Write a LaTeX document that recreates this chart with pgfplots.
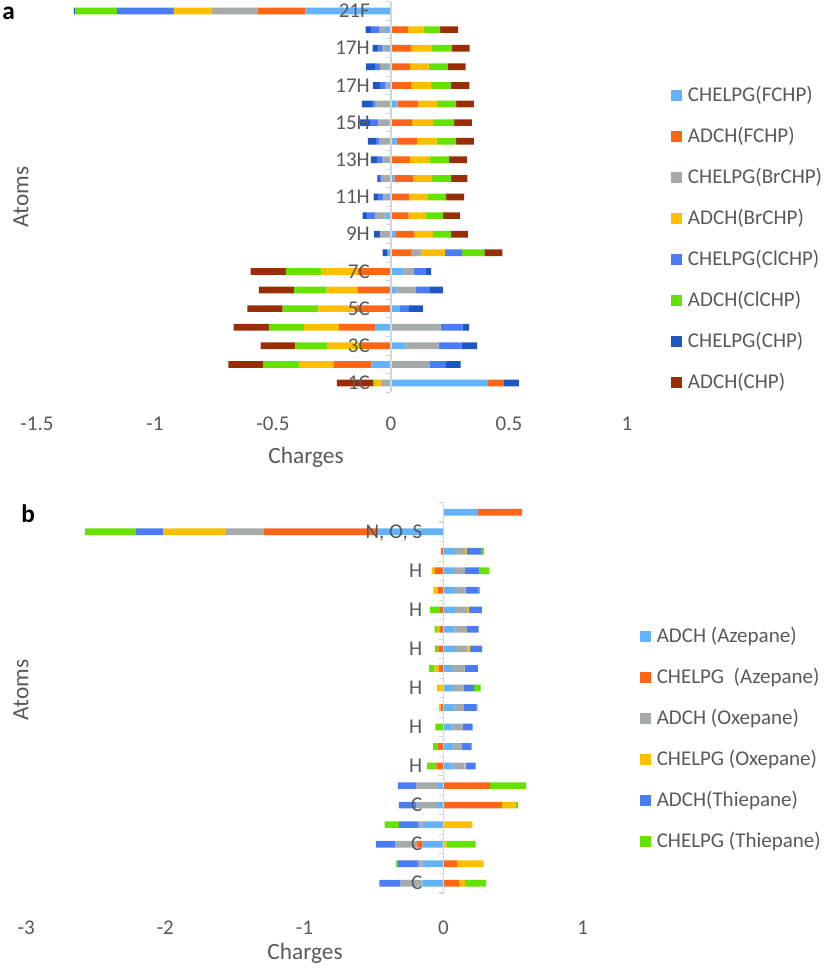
\documentclass[border=0pt]{standalone}
\usepackage{pgfplots}
\pgfplotsset{compat=1.18}
\usepackage{pgfplotstable}
\usepackage{fontspec}
\setmainfont{Carlito}
\setsansfont{Carlito}

\definecolor{cLB}{RGB}{99,178,250}
\definecolor{cOR}{RGB}{252,102,22}
\definecolor{cGR}{RGB}{165,170,170}
\definecolor{cYE}{RGB}{255,190,0}
\definecolor{cBL}{RGB}{74,124,246}
\definecolor{cGN}{RGB}{102,226,0}
\definecolor{cDB}{RGB}{31,87,194}
\definecolor{cDR}{RGB}{153,46,6}
\definecolor{tgray}{RGB}{89,89,89}
\definecolor{axgray}{RGB}{210,214,218}

\newcommand\fs{\fontsize{15.75}{18}\selectfont}
\newcommand\fst{\fontsize{17.5}{20}\selectfont}
\newcommand\fsp{\fontsize{19}{22}\selectfont}

% ---------- panel a : positive parts ----------
\pgfplotstableread{
row CF AF CB AB CC AC CH AH
1 0.412 0.064 0 0 0 0 0.066 0
2 0 0 0.165 0 0.068 0 0.062 0
3 0.062 0 0.140 0 0.097 0 0.066 0
4 0 0 0.210 0 0.093 0 0.028 0
5 0.038 0 0 0 0.038 0 0.059 0
6 0.023 0 0.083 0 0.059 0 0.055 0
7 0.054 0 0.044 0 0.051 0 0.021 0
8 0 0.085 0.045 0.099 0.072 0.095 0 0.076
9 0.021 0.078 0 0.078 0 0.078 0 0.071
10 0 0.075 0 0.073 0 0.073 0 0.071
11 0 0.078 0 0.078 0 0.078 0 0.076
12 0.014 0.079 0 0.081 0 0.081 0 0.069
13 0 0.080 0 0.085 0 0.081 0 0.076
14 0.024 0.088 0 0.081 0 0.083 0 0.075
15 0 0.089 0 0.089 0 0.089 0 0.076
16 0.028 0.088 0 0.079 0 0.081 0 0.075
17 0 0.085 0 0.085 0 0.083 0 0.079
18 0 0.080 0 0.079 0 0.082 0 0.075
19 0 0.085 0 0.088 0 0.085 0 0.075
20 0 0.071 0 0.066 0 0.071 0 0.076
21 0 0 0 0 0 0 0 0
}\aPos
% ---------- panel a : negative parts ----------
\pgfplotstableread{
row CF AF CB AB CC AC CH AH
1 0 0 -0.038 -0.030 0 -0.008 0 -0.153
2 -0.082 -0.162 0 -0.145 0 -0.153 0 -0.147
3 0 -0.130 0 -0.141 0 -0.134 0 -0.147
4 -0.065 -0.157 0 -0.147 0 -0.148 0 -0.150
5 0 -0.150 0 -0.158 0 -0.151 0 -0.150
6 0 -0.140 0 -0.133 0 -0.137 0 -0.150
7 0 -0.140 0 -0.157 0 -0.148 0 -0.150
8 -0.014 0 0 0 0 0 -0.021 0
9 0 0 -0.047 0 0 0 -0.025 0
10 -0.024 0 -0.041 0 -0.034 0 -0.021 0
11 -0.018 0 -0.014 0 -0.024 0 -0.018 0
12 0 0 -0.042 0 -0.008 0 -0.008 0
13 0 0 -0.035 0 -0.025 0 -0.025 0
14 0 0 -0.051 0 -0.013 0 -0.034 0
15 -0.007 0 -0.047 0 -0.035 0 -0.042 0
16 0 0 -0.068 0 -0.013 0 -0.042 0
17 -0.014 0 -0.011 0 -0.021 0 -0.031 0
18 -0.011 0 -0.035 0 -0.021 0 -0.038 0
19 -0.018 0 -0.017 0 -0.018 0 -0.025 0
20 -0.025 0 -0.025 0 -0.034 0 -0.024 0
21 -0.362 -0.203 -0.194 -0.161 -0.242 -0.175 -0.007 0
}\aNeg
% ---------- panel b : positive parts ----------
\pgfplotstableread{
row AA CA AO CO AT CT
1 0 0.112 0 0.041 0 0.153
2 0 0.098 0 0.190 0 0
3 0 0 0 0.020 0 0.211
4 0 0 0 0.207 0 0
5 0 0.419 0 0.101 0 0.014
6 0 0.335 0 0 0 0.259
7 0.066 0 0.086 0.007 0.072 0
8 0.071 0 0.062 0 0.070 0
9 0.066 0 0.072 0 0.072 0
10 0.080 0 0.067 0 0.091 0.007
11 0.070 0 0.074 0 0.077 0.046
12 0.062 0 0.089 0 0.096 0
13 0.084 0 0.089 0.019 0.086 0
14 0.079 0 0.089 0 0.084 0
15 0.084 0 0.086 0.014 0.091 0
16 0.082 0 0.077 0 0.094 0.010
17 0.070 0 0.086 0 0.101 0.072
18 0.082 0 0.074 0.012 0.103 0.019
19 0 0 0 0 0 0
20 0.249 0.314 0 0 0 0
}\bPos
% ---------- panel b : negative parts ----------
\pgfplotstableread{
row AA CA AO CO AT CT
1 -0.152 0 -0.156 0 -0.153 0
2 -0.150 0 -0.029 0 -0.151 -0.010
3 -0.150 -0.043 -0.154 0 -0.137 0
4 -0.150 0 -0.029 0 -0.141 -0.103
5 -0.040 0 -0.154 0 -0.127 0
6 -0.040 0 -0.156 0 -0.132 0
7 0 -0.052 0 0 0 -0.065
8 0 -0.044 0 0 0 -0.031
9 0 0 0 0 0 -0.058
10 0 -0.020 0 -0.012 0 0
11 0 0 0 -0.048 0 0
12 0 -0.034 0 -0.029 0 -0.041
13 0 -0.036 0 0 0 -0.026
14 0 -0.029 0 -0.017 0 -0.017
15 0 -0.026 0 0 0 -0.070
16 0 -0.038 0 -0.034 0 0
17 0 -0.062 0 -0.024 0 0
18 0 -0.019 0 0 0 0
19 -0.469 -0.822 -0.273 -0.451 -0.194 -0.369
20 0 0 0 0 0 0
}\bNeg

\pgfplotsset{
  common/.style={scale only axis, xbar stacked, bar width=5pt, anchor=south west,
    every axis plot post/.append style={draw=none,
      legend image code/.code={\fill[##1] (0pt,-3.0pt) rectangle (8.25pt,5.25pt);}}},
  panelA/.style={common, at={(27.75pt,432.5pt)}, width=442.5pt, height=292.95pt,
    xmin=-1.5, xmax=1, ymin=0.5, ymax=21.5},
  panelB/.style={common, at={(19.65pt,57pt)}, width=417.3pt, height=292.9pt,
    xmin=-3, xmax=1, ymin=0.5, ymax=20.5},
  deco/.style={axis on top, axis x line=bottom, axis y line=middle,
    x axis line style={draw=none},
    y axis line style={draw=axgray, line width=1.1pt, -},
    major tick length=0pt, minor tick length=3.5pt, tick align=outside,
    major x tick style={draw=none},
    minor y tick style={draw=axgray, line width=0.8pt},
    hide obscured x ticks=false, hide obscured y ticks=false,
    tick label style={font=\fs, text=tgray},
    xticklabel style={inner sep=0pt, anchor=north, text height=10pt, text depth=0pt},
    yticklabel style={inner sep=0pt, anchor=east, text height=10pt, text depth=0pt},
    yticklabel shift=15.75pt,
    /pgf/number format/assume math mode=true,
    legend cell align=left,
    legend style={anchor=north west, draw=none, fill=none, inner sep=0pt, outer sep=0pt,
      row sep=16.25pt, column sep=4.7pt, font=\fs, text=tgray,
      nodes={inner sep=0pt, text height=11pt, text depth=3.5pt}},
  },
}

\begin{document}
\begin{tikzpicture}
\path[use as bounding box] (0,0) rectangle (620.25pt,726.75pt);

% ===================== panel a =====================
\begin{axis}[panelA, hide axis]
\addplot[fill=cLB] table[x=CF,y=row]{\aNeg};
\addplot[fill=cOR] table[x=AF,y=row]{\aNeg};
\addplot[fill=cGR] table[x=CB,y=row]{\aNeg};
\addplot[fill=cYE] table[x=AB,y=row]{\aNeg};
\addplot[fill=cBL] table[x=CC,y=row]{\aNeg};
\addplot[fill=cGN] table[x=AC,y=row]{\aNeg};
\addplot[fill=cDB] table[x=CH,y=row]{\aNeg};
\addplot[fill=cDR] table[x=AH,y=row]{\aNeg};
\end{axis}
\begin{axis}[panelA, deco,
  xtick={-1.5,-1,-0.5,0,0.5,1}, xticklabel shift=18.25pt,
  ytick={1,3,...,21}, minor ytick={0.5,1.5,...,21.5},
  yticklabels={1C,3C,5C,7C,9H,11H,13H,15H,17H,17H,21F},
  legend style={at={(1.0741,0.7816)}}]
\addplot[fill=cLB] table[x=CF,y=row]{\aPos}; \addlegendentry{CHELPG(FCHP)}
\addplot[fill=cOR] table[x=AF,y=row]{\aPos}; \addlegendentry{ADCH(FCHP)}
\addplot[fill=cGR] table[x=CB,y=row]{\aPos}; \addlegendentry{CHELPG(BrCHP)}
\addplot[fill=cYE] table[x=AB,y=row]{\aPos}; \addlegendentry{ADCH(BrCHP)}
\addplot[fill=cBL] table[x=CC,y=row]{\aPos}; \addlegendentry{CHELPG(ClCHP)}
\addplot[fill=cGN] table[x=AC,y=row]{\aPos}; \addlegendentry{ADCH(ClCHP)}
\addplot[fill=cDB] table[x=CH,y=row]{\aPos}; \addlegendentry{CHELPG(CHP)}
\addplot[fill=cDR] table[x=AH,y=row]{\aPos}; \addlegendentry{ADCH(CHP)}
\end{axis}

% ===================== panel b =====================
\begin{axis}[panelB, hide axis]
\addplot[fill=cLB] table[x=AA,y=row]{\bNeg};
\addplot[fill=cOR] table[x=CA,y=row]{\bNeg};
\addplot[fill=cGR] table[x=AO,y=row]{\bNeg};
\addplot[fill=cYE] table[x=CO,y=row]{\bNeg};
\addplot[fill=cBL] table[x=AT,y=row]{\bNeg};
\addplot[fill=cGN] table[x=CT,y=row]{\bNeg};
\end{axis}
\begin{axis}[panelB, deco,
  xtick={-3,-2,-1,0,1}, xticklabel shift=21.25pt,
  ytick={1,3,...,19}, minor ytick={0.5,1.5,...,20.5},
  yticklabels={C,C,C,H,H,H,H,H,H,{N, O, S}},
  legend style={at={(1.1023,0.6786)}}]
\addplot[fill=cLB] table[x=AA,y=row]{\bPos}; \addlegendentry{ADCH (Azepane)}
\addplot[fill=cOR] table[x=CA,y=row]{\bPos}; \addlegendentry{CHELPG\ \ (Azepane)}
\addplot[fill=cGR] table[x=AO,y=row]{\bPos}; \addlegendentry{ADCH (Oxepane)}
\addplot[fill=cYE] table[x=CO,y=row]{\bPos}; \addlegendentry{CHELPG (Oxepane)}
\addplot[fill=cBL] table[x=AT,y=row]{\bPos}; \addlegendentry{ADCH(Thiepane)}
\addplot[fill=cGN] table[x=CT,y=row]{\bPos}; \addlegendentry{CHELPG (Thiepane)}
\end{axis}

% ===================== titles =====================
\node[font=\fst, text=tgray] at (229.5pt,383.5pt) {Charges};
\node[font=\fst, text=tgray] at (228.75pt,11.5pt) {Charges};
\node[font=\fst, text=tgray, rotate=90] at (15.75pt,579pt) {Atoms};
\node[font=\fst, text=tgray, rotate=90] at (15.75pt,209.25pt) {Atoms};
\node[font=\fsp\bfseries, text=black, inner sep=0pt, anchor=base west] at (1.5pt,711.75pt) {a};
\node[font=\fsp\bfseries, text=black, inner sep=0pt] at (21.2pt,341.25pt) {b};
\end{tikzpicture}
\end{document}
